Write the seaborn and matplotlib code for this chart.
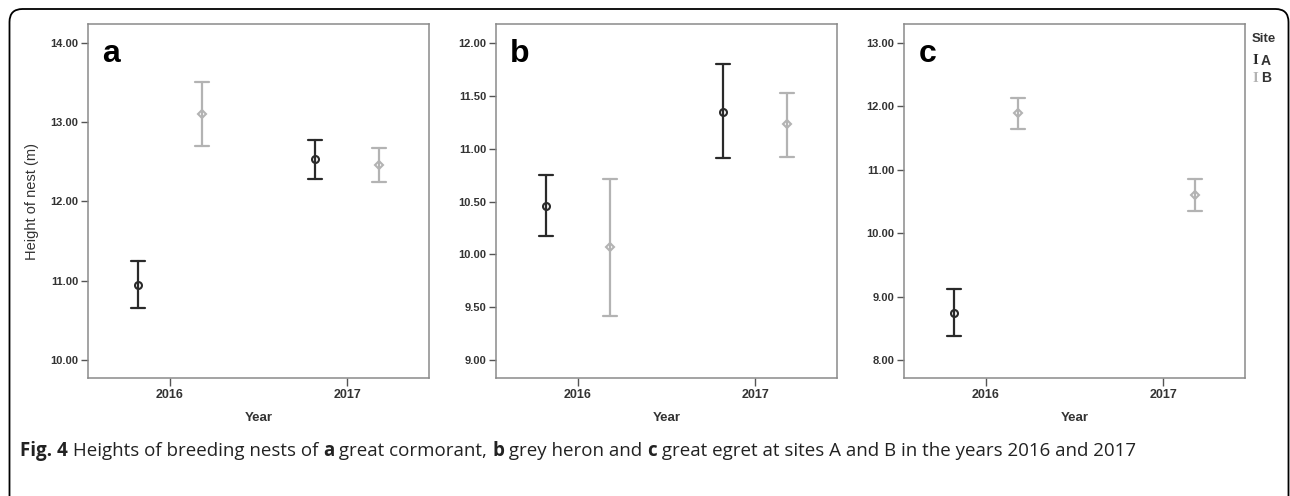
"""Visine gnijezda po godinama i lokalitetima (a, b, c) - SPSS stil error bar grafika."""

import numpy as np
import pandas as pd
import matplotlib.pyplot as plt
from matplotlib.patches import FancyBboxPatch
import seaborn as sns

# podaci: redoslijed grupa (2016 A, 2016 B, 2017 A, 2017 B)
years = ["2016", "2016", "2017", "2017"]
sites = ["A", "B", "A", "B"]

a_mean = [10.95, 13.10, 12.53, 12.46]
a_lo = [10.66, 12.70, 12.28, 12.25]
a_hi = [11.25, 13.51, 12.77, 12.67]

b_mean = [10.46, 10.07, 11.35, 11.23]
b_lo = [10.17, 9.42, 10.91, 10.92]
b_hi = [10.75, 10.71, 11.80, 11.53]

c_mean = [8.75, 11.89, np.nan, 10.61]
c_lo = [8.38, 11.65, np.nan, 10.35]
c_hi = [9.13, 12.13, np.nan, 10.86]

a_ticks = [10.0, 11.0, 12.0, 13.0, 14.0]
b_ticks = [9.0, 9.5, 10.0, 10.5, 11.0, 11.5, 12.0]
c_ticks = [8.0, 9.0, 10.0, 11.0, 12.0, 13.0]

panel_letters = ["a", "b", "c"]
y_label = "Height of nest (m)"
x_label = "Year"

BOJA_A = "#2a2a2a"
BOJA_B = "#b3b3b3"


def long_df(mean, lo, hi):
    """Svaka grupa -> 3 reda (donja, srednja, gornja) da pointplot nacrta median + raspon."""
    rows = []
    for y, s, m, l, h in zip(years, sites, mean, lo, hi):
        if np.isnan(m):
            continue
        for v in (l, m, h):
            rows.append({"Year": y, "Site": s, "value": v})
    return pd.DataFrame(rows)


sns.set_style("ticks")
plt.rcParams["font.family"] = ["Liberation Sans", "DejaVu Sans"]

fig = plt.figure(figsize=(12.9, 4.96), dpi=100)

W, H = 1290, 496
lefts = [88, 496, 904]
panels = [
    (a_mean, a_lo, a_hi, a_ticks, (9.77, 14.24)),
    (b_mean, b_lo, b_hi, b_ticks, (8.83, 12.18)),
    (c_mean, c_lo, c_hi, c_ticks, (7.72, 13.30)),
]

for i, (mean, lo, hi, ticks, ylim) in enumerate(panels):
    ax = fig.add_axes([lefts[i] / W, (H - 378) / H, 341 / W, 354 / H])
    df = long_df(mean, lo, hi)
    sns.pointplot(data=df, x="Year", y="value", hue="Site", order=["2016", "2017"],
                  hue_order=["A", "B"], palette={"A": BOJA_A, "B": BOJA_B},
                  estimator="median", errorbar=("pi", 100), dodge=0.36,
                  markers=["o", "D"], linestyles="none", capsize=0.08,
                  err_kws={"linewidth": 1.6}, markersize=5, ax=ax, legend=False)
    for ln in ax.lines:
        if ln.get_marker() not in (None, "None", ""):
            ln.set_markerfacecolor("white")
            ln.set_markeredgewidth(1.5)
            if ln.get_marker() == "D":
                ln.set_markersize(4.4)

    ax.set_xlim(-0.46, 1.46)
    ax.set_ylim(*ylim)
    ax.set_yticks(ticks)
    ax.set_yticklabels([f"{t:.2f}" for t in ticks])
    ax.tick_params(axis="both", direction="out", width=1, color="#555555",
                   labelcolor="#333333", pad=2)
    ax.tick_params(axis="y", length=5, labelsize=8)
    ax.tick_params(axis="x", length=6, labelsize=9)
    for lab in ax.get_xticklabels() + ax.get_yticklabels():
        lab.set_fontweight("bold")
    for sp in ax.spines.values():
        sp.set_visible(True)
        sp.set_color("#8a8a8a")
        sp.set_linewidth(1.1)

    ax.set_xlabel(x_label, fontsize=9.5, fontweight="bold", color="#333333", labelpad=8)
    if i == 0:
        ax.set_ylabel(y_label, fontsize=10.5, color="#333333", labelpad=8)
    else:
        ax.set_ylabel("")
    ax.text(0.042, 0.916, panel_letters[i], transform=ax.transAxes, fontsize=23,
            fontweight="bold", color="black", va="center", ha="left")

# legenda (Site)
fig.text(1252 / W, 1 - 39 / H, "Site", fontsize=9.5, fontweight="bold", color="#333333",
         va="center", ha="left")
for k, (s, col) in enumerate([("A", BOJA_A), ("B", BOJA_B)]):
    yy = 1 - (61 + k * 17) / H
    fig.text(1252 / W, yy, "I", fontsize=10.5, fontweight="bold", color=col, va="center",
             ha="left", family=["Liberation Serif", "DejaVu Serif"])
    fig.text(1261 / W, yy, s, fontsize=10, fontweight="bold", color="#333333",
             va="center", ha="left")

# okvir oko slike (zaobljeni uglovi), u incima
okvir = FancyBboxPatch((0.095, -0.5), 12.79, 4.87 + 0.5,
                       boxstyle="round,pad=0,rounding_size=0.13",
                       transform=fig.dpi_scale_trans, fill=False, edgecolor="black",
                       linewidth=1.3)
fig.patches.append(okvir)

# potpis slike (bold/regular dijelovi jedan za drugim)
caption = [("Fig. 4", "bold"), (" Heights of breeding nests of ", "normal"), ("a", "bold"),
           (" great cormorant, ", "normal"), ("b", "bold"), (" grey heron and ", "normal"),
           ("c", "bold"), (" great egret at sites A and B in the years 2016 and 2017", "normal")]
renderer = fig.canvas.get_renderer()
x = 20
for txt, fw in caption:
    t = fig.text(x / W, 1 - 451 / H, txt, fontsize=13.5, fontweight=fw, color="#222222",
                 family=["Open Sans", "DejaVu Sans"], va="center", ha="left")
    bb = t.get_window_extent(renderer=renderer)
    x += bb.width

fig.savefig("out.png", dpi=100)
